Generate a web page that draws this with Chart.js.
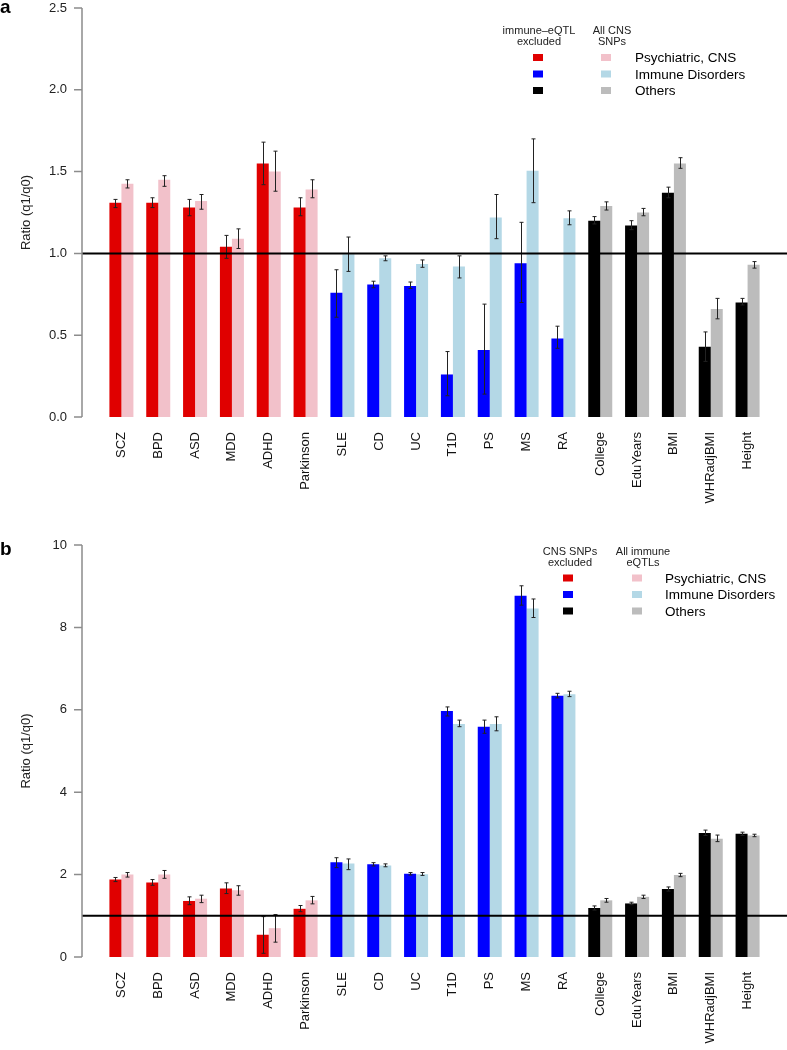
<!DOCTYPE html>
<html>
<head>
<meta charset="utf-8">
<script src="https://cdn.jsdelivr.net/npm/chart.js@4.4.0/dist/chart.umd.min.js"></script>
<style>
  body { margin: 0; background: #fff; }
  .panel { position: absolute; left: 0; width: 787px; height: 525px; }
</style>
</head>
<body>
<div class="panel" style="top:0"><canvas id="chart-a" width="787" height="525"></canvas></div>
<div class="panel" style="top:525px"><canvas id="chart-b" width="787" height="525"></canvas></div>
<script>
const labels = ['SCZ', 'BPD', 'ASD', 'MDD', 'ADHD', 'Parkinson', 'SLE', 'CD', 'UC', 'T1D', 'PS', 'MS', 'RA',
  'College', 'EduYears', 'BMI', 'WHRadjBMI', 'Height'];
const groups = ['psych', 'psych', 'psych', 'psych', 'psych', 'psych',
  'immune', 'immune', 'immune', 'immune', 'immune', 'immune', 'immune',
  'other', 'other', 'other', 'other', 'other'];
const legendNames = ['Psychiatric, CNS', 'Immune Disorders', 'Others'];

// panel a: immune-eQTL excluded vs all CNS SNPs
const aExcl   = [1.31, 1.31, 1.28, 1.04, 1.55, 1.28, 0.76, 0.81, 0.80, 0.26, 0.41, 0.94, 0.48, 1.20, 1.17, 1.37, 0.43, 0.70];
const aExclLo = [1.28, 1.28, 1.23, 0.97, 1.42, 1.23, 0.61, 0.79, 0.785, 0.13, 0.14, 0.70, 0.42, 1.18, 1.145, 1.34, 0.34, 0.685];
const aExclHi = [1.33, 1.34, 1.33, 1.11, 1.68, 1.34, 0.90, 0.83, 0.825, 0.40, 0.69, 1.19, 0.555, 1.225, 1.20, 1.405, 0.52, 0.725];
const aAll    = [1.425, 1.45, 1.32, 1.09, 1.50, 1.39, 0.995, 0.97, 0.935, 0.92, 1.22, 1.505, 1.215, 1.29, 1.25, 1.55, 0.66, 0.93];
const aAllLo  = [1.40, 1.41, 1.27, 1.03, 1.38, 1.34, 0.89, 0.955, 0.915, 0.85, 1.09, 1.31, 1.175, 1.265, 1.23, 1.52, 0.60, 0.91];
const aAllHi  = [1.45, 1.475, 1.36, 1.15, 1.625, 1.45, 1.10, 0.985, 0.96, 0.985, 1.36, 1.70, 1.26, 1.315, 1.275, 1.585, 0.725, 0.95];

// panel b: CNS SNPs excluded vs all immune eQTLs
const bExcl   = [1.88, 1.81, 1.36, 1.66, 0.54, 1.17, 2.30, 2.25, 2.02, 5.97, 5.59, 8.77, 6.34, 1.19, 1.30, 1.65, 3.01, 2.99];
const bExclLo = [1.83, 1.74, 1.27, 1.54, 0.09, 1.10, 2.17, 2.21, 1.99, 5.85, 5.43, 8.54, 6.29, 1.14, 1.27, 1.60, 2.95, 2.95];
const bExclHi = [1.93, 1.88, 1.46, 1.80, 0.98, 1.25, 2.41, 2.29, 2.05, 6.07, 5.75, 9.01, 6.40, 1.24, 1.33, 1.70, 3.08, 3.03];
const bAll    = [2.00, 2.00, 1.415, 1.62, 0.70, 1.375, 2.27, 2.22, 2.01, 5.655, 5.655, 8.46, 6.38, 1.375, 1.46, 1.99, 2.87, 2.95];
const bAllLo  = [1.94, 1.91, 1.32, 1.50, 0.36, 1.29, 2.12, 2.19, 1.98, 5.59, 5.49, 8.24, 6.32, 1.33, 1.42, 1.95, 2.80, 2.92];
const bAllHi  = [2.05, 2.10, 1.50, 1.73, 1.03, 1.47, 2.38, 2.26, 2.05, 5.75, 5.83, 8.69, 6.45, 1.42, 1.50, 2.03, 2.96, 2.98];

const darkColors = { psych: '#e00000', immune: '#0000ff', other: '#000000' };
const lightColors = { psych: '#f2c1ca', immune: '#b4d8e6', other: '#bcbcbc' };

const FONT = '"Liberation Sans", Arial, sans-serif';
Chart.defaults.font.family = FONT;
Chart.defaults.font.size = 13;
Chart.defaults.color = '#111';

// R-style extras: error bars, line at 1, detached y axis, panel letter, legend
const rStyle = {
  id: 'rStyle',
  afterDatasetsDraw(chart, args, opts) {
    const ctx = chart.ctx;
    const y = chart.scales.y;
    const area = chart.chartArea;
    const axisX = area.left - 21;
    ctx.save();

    ctx.strokeStyle = '#222';
    ctx.lineWidth = 1;
    opts.errors.forEach((err, di) => {
      const meta = chart.getDatasetMeta(di);
      meta.data.forEach((bar, i) => {
        const top = y.getPixelForValue(err.hi[i]);
        const bot = y.getPixelForValue(err.lo[i]);
        const x = Math.round(bar.x) + 0.5;
        ctx.beginPath();
        ctx.moveTo(x, top); ctx.lineTo(x, bot);
        ctx.moveTo(x - 2, top); ctx.lineTo(x + 2, top);
        ctx.moveTo(x - 2, bot); ctx.lineTo(x + 2, bot);
        ctx.stroke();
      });
    });

    const y1 = y.getPixelForValue(1);
    ctx.strokeStyle = '#000';
    ctx.lineWidth = 2;
    ctx.beginPath();
    ctx.moveTo(axisX, y1); ctx.lineTo(chart.width, y1);
    ctx.stroke();

    ctx.strokeStyle = '#8c8c8c';
    ctx.lineWidth = 1.5;
    ctx.beginPath();
    ctx.moveTo(axisX, y.getPixelForValue(y.min));
    ctx.lineTo(axisX, y.getPixelForValue(y.max));
    y.ticks.forEach(t => {
      const ty = y.getPixelForValue(t.value);
      ctx.moveTo(axisX - 8, ty); ctx.lineTo(axisX, ty);
    });
    ctx.stroke();

    ctx.fillStyle = '#000';
    ctx.font = 'bold 19px ' + FONT;
    ctx.textAlign = 'left';
    ctx.textBaseline = 'alphabetic';
    ctx.fillText(opts.letter, 0, opts.letterY);

    const lg = opts.legend;
    ctx.fillStyle = '#222';
    ctx.font = '11px ' + FONT;
    ctx.textAlign = 'center';
    ctx.textBaseline = 'middle';
    lg.head1.forEach((t, k) => ctx.fillText(t, lg.hx1, lg.hy + k * 11));
    lg.head2.forEach((t, k) => ctx.fillText(t, lg.hx2, lg.hy + k * 11));
    ctx.font = '13.5px ' + FONT;
    ctx.textAlign = 'left';
    ['psych', 'immune', 'other'].forEach((g, k) => {
      const ry = lg.ry + k * 16.5;
      ctx.fillStyle = darkColors[g];
      ctx.fillRect(lg.x1 - 5, ry - 3.5, 10, 7);
      ctx.fillStyle = lightColors[g];
      ctx.fillRect(lg.x2 - 5, ry - 3.5, 10, 7);
      ctx.fillStyle = '#000';
      ctx.fillText(legendNames[k], lg.xt, ry + 1);
    });
    ctx.restore();
  }
};

function makeChart(id, excl, exclLo, exclHi, all, allLo, allHi, yMax, step, fmt, padTop, plotBottom, letterY, legend) {
  const ctx = document.getElementById(id).getContext('2d');
  return new Chart(ctx, {
    type: 'bar',
    data: {
      labels: labels,
      datasets: [
        { data: excl, backgroundColor: groups.map(g => darkColors[g]), borderWidth: 0,
          categoryPercentage: 0.652, barPercentage: 1 },
        { data: all, backgroundColor: groups.map(g => lightColors[g]), borderWidth: 0,
          categoryPercentage: 0.652, barPercentage: 1 }
      ]
    },
    options: {
      responsive: false,
      animation: false,
      layout: { padding: { top: padTop, right: 21, left: 0, bottom: 0 } },
      plugins: {
        legend: { display: false },
        tooltip: { enabled: false },
        rStyle: {
          errors: [{ lo: exclLo, hi: exclHi }, { lo: allLo, hi: allHi }],
          letter: id === 'chart-a' ? 'a' : 'b',
          letterY: letterY,
          legend: legend
        }
      },
      scales: {
        x: {
          grid: { display: false, drawTicks: false },
          border: { display: false },
          ticks: { autoSkip: false, maxRotation: 90, minRotation: 90, padding: 15, color: '#111' },
          afterFit: s => { s.height = 525 - plotBottom; }
        },
        y: {
          min: 0, max: yMax,
          grid: { display: false, drawTicks: false },
          border: { display: false },
          ticks: { stepSize: step, padding: 36, color: '#222', callback: v => fmt(v) },
          title: { display: true, text: 'Ratio (q1/q0)', color: '#222', font: { size: 13 }, padding: { top: 19, bottom: 0 } },
          afterFit: s => { s.width = 103; s.paddingTop = 0; s.paddingBottom = 0; }
        }
      }
    },
    plugins: [rStyle]
  });
}

makeChart('chart-a', aExcl, aExclLo, aExclHi, aAll, aAllLo, aAllHi, 2.5, 0.5, v => v.toFixed(1), 8, 417, 13, {
  head1: ['immune\u2013eQTL', 'excluded'], head2: ['All CNS', 'SNPs'],
  hx1: 539, hx2: 612, hy: 31, x1: 538, x2: 606, xt: 635, ry: 57.5
});
makeChart('chart-b', bExcl, bExclLo, bExclHi, bAll, bAllLo, bAllHi, 10, 2, v => String(v), 20, 432, 30, {
  head1: ['CNS SNPs', 'excluded'], head2: ['All immune', 'eQTLs'],
  hx1: 570, hx2: 643, hy: 27, x1: 568, x2: 637, xt: 665, ry: 53
});
</script>
</body>
</html>
